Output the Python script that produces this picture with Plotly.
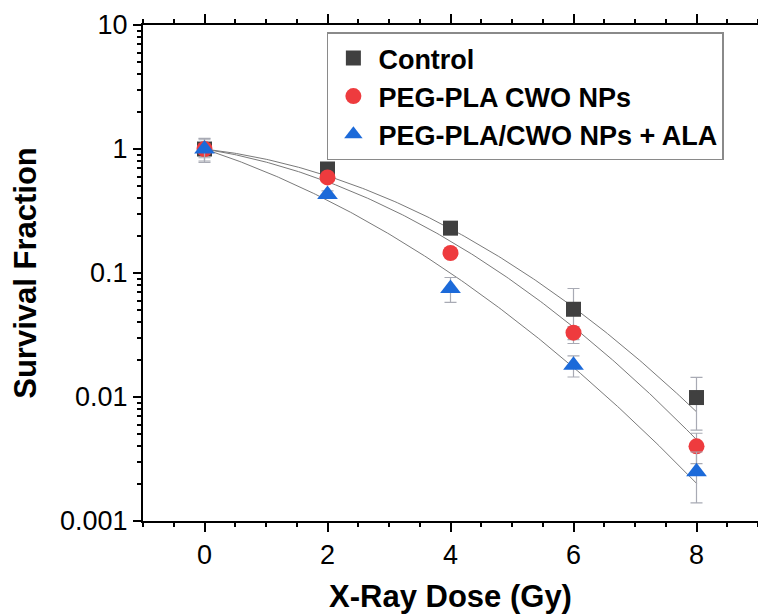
import numpy as np
import plotly.graph_objects as go

# ---- data ----
dose = [0, 2, 4, 6, 8]

control = [1.0, 0.69, 0.23, 0.051, 0.0099]
control_err = [0.20, 0.04, 0.02, 0.024, 0.0045]

peg_cwo = [1.0, 0.59, 0.145, 0.033, 0.0040]
peg_cwo_err = [0.15, 0.03, 0.01, 0.004, 0.0011]

peg_cwo_ala = [1.0, 0.43, 0.075, 0.018, 0.0025]
peg_cwo_ala_err = [0.22, 0.03, 0.017, 0.0035, 0.0011]

series_names = ["Control", "PEG-PLA CWO NPs", "PEG-PLA/CWO NPs + ALA"]

# linear-quadratic fit parameters (S = exp(-(aD + bD^2)))
lq_alpha = [0.13, 0.181, 0.376]
lq_beta = [0.060, 0.0617, 0.050]

y_tickvals = [0.001, 0.01, 0.1, 1, 10]
y_ticktext = ["0.001", "0.01", "0.1", "1", "10"]
x_tickvals = [0, 2, 4, 6, 8]

# ---- styling ----
colors = ["#404040", "#ee3b3e", "#1c6ad9"]
symbols = ["square", "circle", "triangle-up"]
sizes = [15, 16, 18]
err_color = "#a8aab4"
font_family = "Arial, Liberation Sans, sans-serif"

fig = go.Figure()

# fitted curves
d_fine = np.linspace(0, max(dose), 200)
for a, b in zip(lq_alpha, lq_beta):
    fig.add_trace(go.Scatter(
        x=d_fine, y=np.exp(-(a * d_fine + b * d_fine ** 2)),
        mode="lines", line=dict(color="#7a7a7a", width=1),
        showlegend=False, hoverinfo="skip"))

# data points
for name, ys, es, c, s, sz in zip(
        series_names,
        [control, peg_cwo, peg_cwo_ala],
        [control_err, peg_cwo_err, peg_cwo_ala_err],
        colors, symbols, sizes):
    fig.add_trace(go.Scatter(
        x=dose, y=ys, name=name, mode="markers",
        marker=dict(symbol=s, size=sz, color=c, line=dict(width=0)),
        error_y=dict(type="data", array=es, visible=True,
                     color=err_color, thickness=1.2, width=6)))

minor_y = [m * 10.0 ** e for e in range(-3, 1) for m in range(2, 10)]

fig.update_layout(
    width=758, height=614,
    margin=dict(l=143, r=0, t=25, b=93),
    plot_bgcolor="white", paper_bgcolor="white",
    font=dict(family=font_family, color="black"),
    showlegend=True,
    legend=dict(
        x=0.299, y=0.985, xanchor="left", yanchor="top",
        bgcolor="white", bordercolor="#8a8a8a", borderwidth=1.5,
        font=dict(size=27, family=font_family, color="black", weight="bold"),
        itemwidth=40, tracegroupgap=0),
    xaxis=dict(
        range=[-1, 9], tickvals=x_tickvals, automargin=False,
        ticks="outside", ticklen=9, tickwidth=2, tickcolor="black",
        showline=True, linecolor="black", linewidth=2,
        mirror="allticks", showgrid=False, zeroline=False,
        tickfont=dict(size=27, family=font_family, color="black"),
        minor=dict(dtick=0.5, tick0=0, ticks="outside", ticklen=4,
                   tickwidth=1.5, tickcolor="black", showgrid=False),
        title=dict(text="<b>X-Ray Dose (Gy)</b>",
                   font=dict(size=31, family=font_family, color="black"),
                   standoff=20)),
    yaxis=dict(
        type="log", range=[-3, 1], automargin=False,
        tickvals=y_tickvals, ticktext=y_ticktext,
        ticks="outside", ticklen=8, tickwidth=2, tickcolor="black",
        showline=True, linecolor="black", linewidth=2,
        mirror="allticks", showgrid=False, zeroline=False,
        tickfont=dict(size=27, family=font_family, color="black"),
        minor=dict(tickvals=minor_y, ticks="outside", ticklen=4,
                   tickwidth=1.5, tickcolor="black", showgrid=False),
        title=dict(text="<b>Survival Fraction</b>",
                   font=dict(size=31, family=font_family, color="black"),
                   standoff=14)),
)

fig.write_html("out.html",
               config={"displayModeBar": False},
               post_script="document.body.style.margin='0px';")
